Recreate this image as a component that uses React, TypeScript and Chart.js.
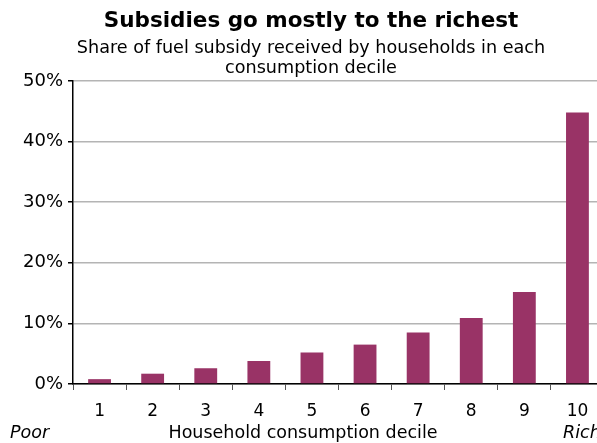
import React, { useEffect, useRef } from "react";
import { Chart, registerables } from "chart.js";

Chart.register(...registerables);

const deciles = ["1", "2", "3", "4", "5", "6", "7", "8", "9", "10"];
const subsidyShare = [0.8, 1.7, 2.6, 3.8, 5.2, 6.5, 8.5, 10.9, 15.2, 44.8];
const titleText = "Subsidies go mostly to the richest";
const subtitleLines = ["Share of fuel subsidy received by households in each", "consumption decile"];
const xAxisTitle = "Household consumption decile";
const leftNote = "Poor";
const rightNote = "Rich";

const FONT = "'DejaVu Sans', Verdana, sans-serif";

const textPlugin = {
  id: "texts",
  afterDraw(chart: any) {
    const ctx = chart.ctx;
    const cx = 311;
    ctx.save();
    ctx.fillStyle = "#000";
    ctx.textAlign = "center";
    ctx.textBaseline = "middle";
    ctx.font = `bold 21.5px ${FONT}`;
    ctx.fillText(titleText, cx, 21);
    ctx.font = `17.6px ${FONT}`;
    ctx.fillText(subtitleLines[0], cx, 48);
    ctx.fillText(subtitleLines[1], cx, 68);
    ctx.font = `17.5px ${FONT}`;
    ctx.fillText(xAxisTitle, 303, 433);
    ctx.font = `italic 17.5px ${FONT}`;
    ctx.textAlign = "left";
    ctx.fillText(leftNote, 10, 433);
    ctx.fillText(rightNote, 563, 433);
    ctx.restore();
  },
};

export default function App() {
  const ref = useRef<HTMLCanvasElement | null>(null);
  useEffect(() => {
    if (!ref.current) return;
    const chart = new Chart(ref.current, {
      type: "bar",
      data: {
        labels: deciles,
        datasets: [
          {
            data: subsidyShare,
            backgroundColor: "#993366",
            borderWidth: 0,
            categoryPercentage: 1,
            barPercentage: 0.43,
          },
        ],
      },
      options: {
        responsive: false,
        animation: false,
        layout: { padding: { top: 81, left: 0, right: 26, bottom: 0 } },
        plugins: {
          legend: { display: false },
          tooltip: { enabled: false },
          title: { display: false },
        },
        scales: {
          x: {
            offset: true,
            grid: {
              display: true,
              offset: true,
              drawOnChartArea: false,
              drawTicks: true,
              tickLength: 6,
              tickColor: "#555",
            },
            border: { display: true, color: "#000", width: 1.5 },
            ticks: {
              color: "#000",
              font: { family: FONT, size: 17 },
              padding: 11,
              maxRotation: 0,
            },
            afterFit: (scale: any) => {
              scale.height = 59;
            },
          },
          y: {
            min: 0,
            max: 50,
            ticks: {
              stepSize: 10,
              color: "#000",
              font: { family: FONT, size: 18 },
              padding: 5,
              callback: (v: any) => `${v}%`,
            },
            grid: {
              color: "#b4b4b4",
              lineWidth: 1.5,
              tickLength: 5,
              tickColor: "#000",
            },
            border: { display: true, color: "#000", width: 1.5 },
            afterFit: (scale: any) => {
              scale.width = 73;
            },
          },
        },
      },
      plugins: [textPlugin],
    });
    return () => chart.destroy();
  }, []);
  return (
    <div
      style={{
        position: "absolute",
        left: 0,
        top: 0,
        width: 597,
        height: 443,
        overflow: "hidden",
        background: "#fff",
      }}
    >
      <canvas ref={ref} width={630} height={443} />
    </div>
  );
}
